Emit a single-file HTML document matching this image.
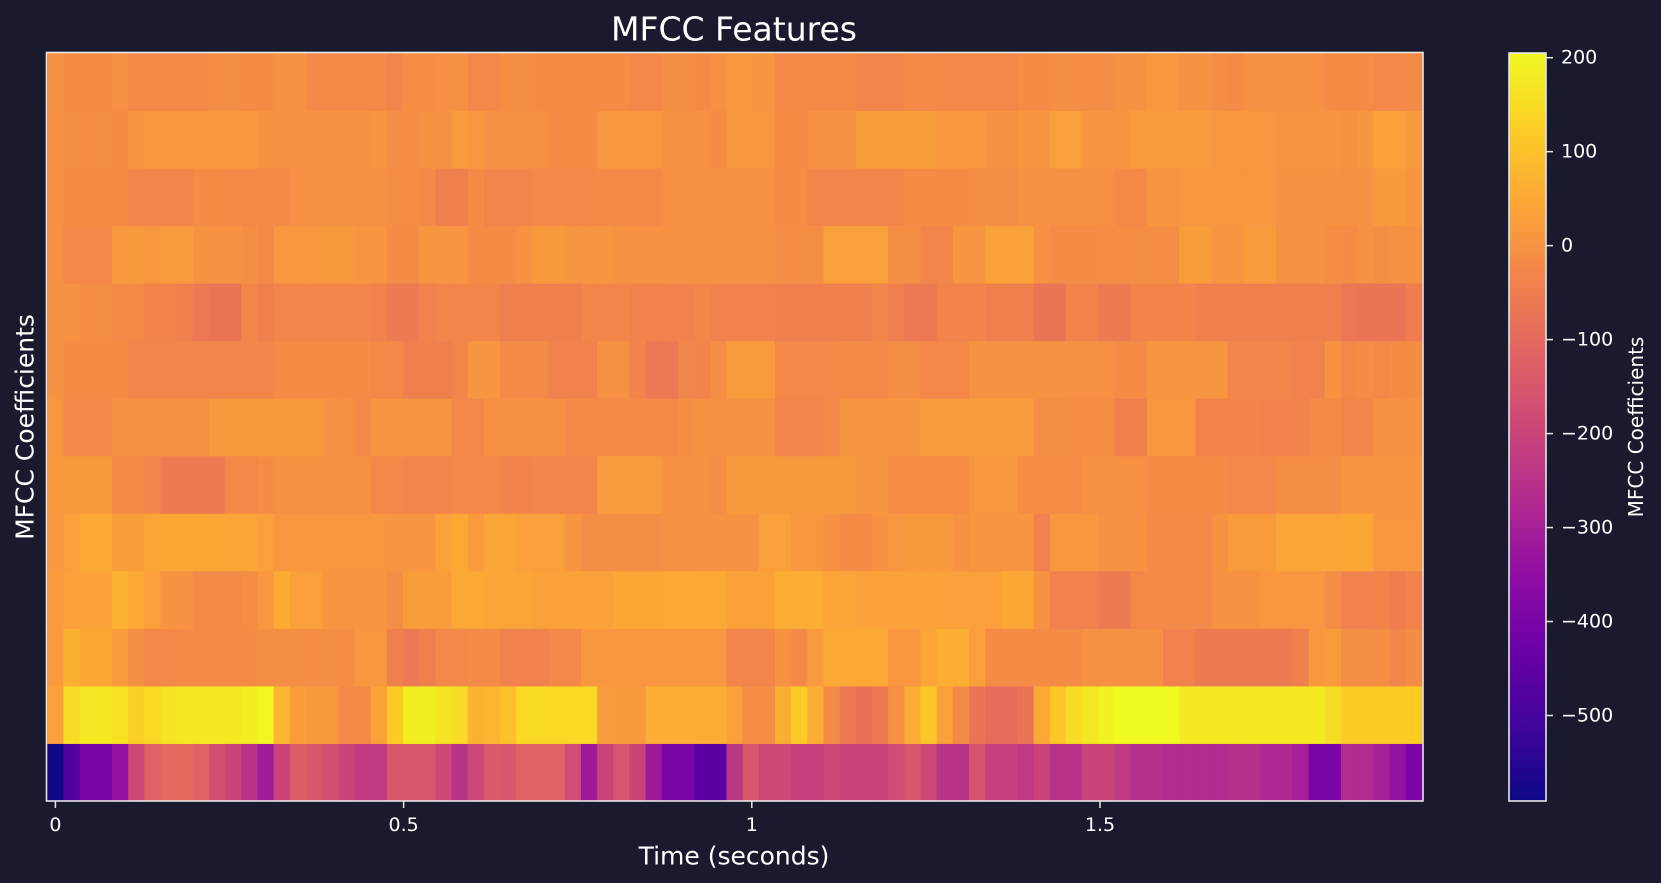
<!DOCTYPE html>
<html>
<head>
<meta charset="utf-8">
<style>
  html,body{margin:0;padding:0;background:#1a1a2e;}
  svg{display:block;}
  text{font-family:"DejaVu Sans","Liberation Sans",sans-serif;fill:#ffffff;}
</style>
</head>
<body>
<svg id="chart" width="1661" height="883" viewBox="0 0 1661 883" xmlns="http://www.w3.org/2000/svg">
  <rect x="0" y="0" width="1661" height="883" fill="#1a1a2e"/>
  <defs>
    <linearGradient id="plasmaGrad" x1="0" y1="1" x2="0" y2="0">
      <stop offset="0" stop-color="#0d0887"/>
      <stop offset="0.1" stop-color="#41049d"/>
      <stop offset="0.2" stop-color="#6a00a8"/>
      <stop offset="0.3" stop-color="#8f0da4"/>
      <stop offset="0.4" stop-color="#b12a90"/>
      <stop offset="0.5" stop-color="#cc4778"/>
      <stop offset="0.6" stop-color="#e16462"/>
      <stop offset="0.7" stop-color="#f2844b"/>
      <stop offset="0.8" stop-color="#fca636"/>
      <stop offset="0.9" stop-color="#fcce25"/>
      <stop offset="1" stop-color="#f0f921"/>
    </linearGradient>
  </defs>
  <g id="cells"></g>
  <rect x="46.5" y="52.5" width="1376.5" height="748.5" fill="none" stroke="#e6e6e6" stroke-width="1.6"/>
  <g id="xticks"></g>
  <text x="734" y="29" font-size="33" text-anchor="middle" dominant-baseline="central">MFCC Features</text>
  <text x="734" y="856" font-size="25" text-anchor="middle" dominant-baseline="central">Time (seconds)</text>
  <text x="25" y="427" font-size="25" text-anchor="middle" dominant-baseline="central" transform="rotate(-90 25 427)">MFCC Coefficients</text>
  <rect x="1509" y="53" width="37" height="748" fill="url(#plasmaGrad)" stroke="#e6e6e6" stroke-width="1.6"/>
  <g id="cbticks"></g>
  <text x="1636" y="427" font-size="20" text-anchor="middle" dominant-baseline="central" transform="rotate(-90 1636 427)">MFCC Coefficients</text>
</svg>
<script>
const c0 = [-590,-480,-400,-400,-340,-190,-120,-100,-100,-120,-170,-200,-250,-310,-200,-130,-150,-170,-200,-230,-230,-150,-150,-150,-190,-250,-190,-140,-150,-120,-120,-120,-180,-320,-200,-150,-200,-320,-400,-400,
 -460,-460,-240,-150,-190,-190,-210,-210,-190,-200,-200,-200,-180,-150,-190,-250,-250,-160,-210,-210,-230,-200,-250,-250,-200,-200,-230,-260,-260,-270,-270,-270,-270,-260,-260,-280,-280,-300,-400,-400,-270,-270,-300,-340,-400];
const c1 = [30,150,175,175,160,130,145,165,175,175,175,175,185,200,75,25,15,15,-20,-20,35,120,185,185,165,150,70,75,100,145,145,145,145,145,20,15,15,60,60,60,
 60,60,30,-10,-10,60,120,60,-20,-60,-80,-60,0,60,110,30,-20,-70,-90,-90,-70,50,110,150,170,190,205,205,205,205,175,175,175,175,175,175,175,175,175,150,120,120,120,120,120];
const c2 = [20,65,45,45,20,-10,-25,-25,-20,-20,-20,-20,-15,-10,-10,-10,-10,-10,-10,10,10,-45,-60,-45,-25,-25,-20,-20,-40,-40,-40,-25,-25,10,10,10,10,10,10,10,
 10,10,-30,-30,-30,0,-20,20,50,50,50,50,10,10,40,60,60,30,-15,-15,-15,-15,-15,-15,-5,-5,-5,-5,-5,-40,-40,-55,-55,-55,-55,-55,-55,-45,10,20,-10,-10,-10,-30,-15];
const c3 = [20,35,35,35,70,50,30,0,0,-20,-20,-20,-10,10,55,30,30,5,5,5,5,-10,25,25,25,50,50,40,40,40,35,35,35,35,35,45,45,45,50,50,
 50,50,35,35,35,60,60,60,40,40,35,35,35,35,35,35,30,30,30,45,45,0,-40,-40,-40,-55,-55,-25,-20,-20,-20,-20,0,0,0,10,10,10,10,-10,-40,-40,-35,-50,-40];
const c4 = [10,30,50,50,25,25,40,45,45,45,45,40,40,30,10,10,10,10,10,10,10,5,5,5,35,50,20,40,40,30,30,30,5,-10,-10,-10,-10,-10,-5,-5,
 0,0,0,0,30,30,10,10,0,-15,-15,0,10,15,15,15,0,5,5,5,5,-40,10,10,10,0,0,0,-20,-20,-20,-20,0,20,20,20,40,40,40,40,45,45,10,10,10];
const c5 = [15,15,15,15,-20,-20,-30,-55,-55,-55,-55,-25,-25,-15,0,0,0,0,0,0,-25,-25,-30,-30,-30,-25,-25,-25,-35,-35,-30,-30,-30,-30,20,20,20,20,0,0,
 0,-10,15,15,15,15,15,15,15,15,5,5,-12,-12,-12,-12,-12,10,10,10,-12,-12,-12,-12,-5,-5,-5,-5,-15,-15,-15,-15,-15,-25,-25,-25,-10,-10,-10,-10,5,5,5,5,5];
const c6 = [10,-25,-25,-25,-5,-5,-5,-5,-5,-5,15,15,15,15,15,15,15,-5,-5,-25,5,5,5,5,5,-25,-25,-5,-5,-5,-5,-5,-20,-20,-20,-20,-20,-20,-20,-10,
 -5,-5,-5,-5,-5,-30,-30,-30,-20,5,5,5,5,5,20,20,20,20,20,20,20,-10,-10,-10,-10,-10,-45,-45,10,10,10,-35,-35,-35,-35,-40,-40,-40,-20,-20,-30,-30,-5,-5,-5];
const c7 = [0,-15,-15,-15,-15,-30,-30,-30,-30,-30,-30,-30,-30,-30,-15,-15,-15,-15,-15,-15,-25,-25,-45,-45,-45,-30,5,5,-20,-20,-20,-40,-40,-40,-5,-5,-35,-60,-60,-30,
 -35,-10,20,20,20,-25,-25,-25,-25,-20,-20,-20,-10,-10,-25,-25,-25,0,0,0,0,0,0,-5,-5,-5,-15,-15,5,5,5,5,5,-30,-30,-30,-30,-40,-40,0,-25,-15,-25,-15,-15];
const c8 = [0,-5,-10,-10,-20,-20,-35,-35,-45,-60,-70,-70,-30,-45,-30,-30,-30,-30,-30,-30,-40,-55,-55,-40,-30,-30,-30,-30,-45,-45,-45,-45,-45,-30,-30,-30,-40,-40,-40,-40,
 -30,-40,-40,-40,-40,-45,-45,-45,-45,-45,-45,-30,-45,-60,-60,-35,-35,-35,-45,-45,-45,-70,-70,-35,-35,-55,-55,-35,-35,-35,-35,-45,-45,-45,-45,-45,-45,-45,-45,-45,-65,-70,-70,-70,-50];
const c9 = [-5,-25,-25,-25,15,15,10,20,20,0,0,0,-10,-25,10,10,10,15,15,5,5,-15,-15,5,5,5,-15,-15,-15,0,15,15,5,5,5,0,0,0,-5,-5,
 -5,-5,-5,-5,-5,-10,-10,-10,30,30,30,30,-10,-10,-30,-30,5,5,35,35,35,-5,-15,-15,-15,-10,-10,-10,-10,-10,25,25,5,5,20,20,0,0,0,-10,-15,-5,-10,-5,-5];
const c10 = [-5,-15,-15,-15,-15,-30,-30,-30,-30,-15,-15,-20,-20,-20,-20,-5,-5,-5,-5,-5,-5,-10,-10,-20,-45,-45,-15,-30,-30,-30,-25,-25,-25,-25,-20,-20,-20,-20,-5,-5,
 -5,-5,-5,-5,-5,-15,-15,-30,-30,-30,-30,-30,-30,-15,-15,-15,-15,-10,-10,-10,-5,-5,-5,-5,-5,-5,-20,-20,5,5,10,10,10,10,10,10,0,0,0,0,-5,-5,15,15,5];
const c11 = [-5,-10,-10,-10,-15,5,10,10,10,10,10,10,10,0,0,0,0,0,0,0,5,-10,-10,0,0,20,10,-5,-5,-5,-5,-15,-15,-15,10,10,10,10,-5,-5,
 0,-15,10,10,10,-15,-15,-5,-5,-5,25,25,25,25,25,10,10,10,0,0,5,5,30,30,5,5,5,20,20,20,20,20,10,10,10,10,5,5,5,5,0,5,35,35,15];
const c12 = [0,-15,-15,-15,-5,-20,-20,-20,-20,-20,-10,-10,-15,-15,0,0,-20,-20,-20,-20,-20,-30,-10,-10,-5,-5,-25,-25,-10,-10,-15,-15,-15,-15,-15,-15,-25,-25,-10,-10,
 -15,-5,10,10,5,-20,-20,-20,-20,-20,-30,-30,-30,-20,-20,-25,-25,-25,-25,-25,-15,-15,-10,-10,-10,-10,0,0,10,10,0,0,-10,-15,-5,-5,-5,-5,-5,-15,-15,-15,-25,-25,-20];
const coefficients = [c0,c1,c2,c3,c4,c5,c6,c7,c8,c9,c10,c11,c12];
const xTickValues = [0, 0.5, 1, 1.5];
const xTickLabels = ["0", "0.5", "1", "1.5"];
const cbTickValues = [200, 100, 0, -100, -200, -300, -400, -500];
const cbTickLabels = ["200", "100", "0", "\u2212100", "\u2212200", "\u2212300", "\u2212400", "\u2212500"];
const frameDuration = 0.02322;
const vmin = -591, vmax = 205;

const NS = "http://www.w3.org/2000/svg";
const plotTop = 53, plotBottom = 801;
function xScale(t){ return 55.4 + 696.4 * t; }
function yScale(k){ return plotBottom - k * (plotBottom - plotTop) / coefficients.length; }
function cbScale(v){ return 801 - (v - vmin) / (vmax - vmin) * 748; }
const stops = ["#0d0887","#41049d","#6a00a8","#8f0da4","#b12a90","#cc4778","#e16462","#f2844b","#fca636","#fcce25","#f0f921"];
function hex(h){ return [parseInt(h.substr(1,2),16),parseInt(h.substr(3,2),16),parseInt(h.substr(5,2),16)]; }
function plasma(v){
  let f = (v - vmin) / (vmax - vmin);
  f = Math.max(0, Math.min(1, f));
  const p = f * 10, i = Math.min(9, Math.floor(p)), r = p - i;
  const a = hex(stops[i]), b = hex(stops[i+1]);
  return "rgb(" + a.map((c,j)=>Math.round(c + (b[j]-c)*r)).join(",") + ")";
}

const cellsG = document.getElementById("cells");
coefficients.forEach((row, k) => {
  row.forEach((v, i) => {
    const x1 = xScale(i * frameDuration - frameDuration / 2);
    const x2 = xScale((i + 1) * frameDuration - frameDuration / 2);
    const r = document.createElementNS(NS, "rect");
    
    
    r.setAttribute("x", x1.toFixed(2));
    r.setAttribute("y", yScale(k + 1).toFixed(2));
    r.setAttribute("width", (x2 - x1 + 0.5).toFixed(2));
    r.setAttribute("height", (yScale(k) - yScale(k + 1) + 0.5).toFixed(2));
    r.setAttribute("fill", plasma(v));
    cellsG.appendChild(r);
  });
});

const xg = document.getElementById("xticks");
xTickValues.forEach((t, i) => {
  const x = xScale(t);
  const l = document.createElementNS(NS, "line");
  
  
  l.setAttribute("x1", x); l.setAttribute("x2", x);
  l.setAttribute("y1", 801); l.setAttribute("y2", 808);
  l.setAttribute("stroke", "#e6e6e6"); l.setAttribute("stroke-width", "1.5");
  xg.appendChild(l);
  const tx = document.createElementNS(NS, "text");
  
  
  tx.setAttribute("x", x); tx.setAttribute("y", 825);
  tx.setAttribute("font-size", "19");
  tx.setAttribute("text-anchor", "middle");
  tx.setAttribute("dominant-baseline", "central");
  tx.textContent = xTickLabels[i];
  xg.appendChild(tx);
});

const cg = document.getElementById("cbticks");
cbTickValues.forEach((v, i) => {
  const y = cbScale(v);
  const l = document.createElementNS(NS, "line");
  
  
  l.setAttribute("x1", 1546); l.setAttribute("x2", 1553);
  l.setAttribute("y1", y); l.setAttribute("y2", y);
  l.setAttribute("stroke", "#e6e6e6"); l.setAttribute("stroke-width", "1.5");
  cg.appendChild(l);
  const tx = document.createElementNS(NS, "text");
  
  
  tx.setAttribute("x", 1561); tx.setAttribute("y", y);
  tx.setAttribute("font-size", "19");
  tx.setAttribute("dominant-baseline", "central");
  tx.textContent = cbTickLabels[i];
  cg.appendChild(tx);
});
</script>
</body>
</html>
